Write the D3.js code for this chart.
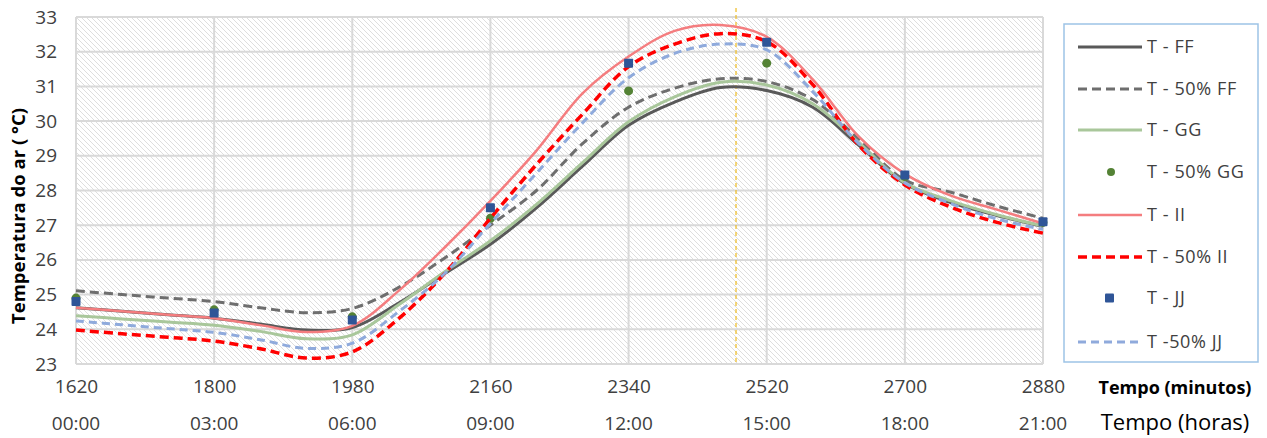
<!DOCTYPE html>
<html>
<head>
<meta charset="utf-8">
<script src="https://cdn.jsdelivr.net/npm/d3@7"></script>
<style>
  body { margin: 0; background: #fff; }
  svg { font-family: "Open Sans", "Noto Sans", sans-serif; }
</style>
</head>
<body>
<div id="chart"></div>
<script>
// time in minutes (hourly readings)
var timeMin = [1620, 1680, 1740, 1800, 1860, 1920, 1980, 2040, 2100, 2160, 2220,
  2280, 2340, 2400, 2460, 2520, 2580, 2640, 2700, 2760, 2820, 2880];

var tFF    = [24.62, 24.52, 24.42, 24.32, 24.15, 23.98, 24.05, 24.75, 25.6, 26.45, 27.5,
  28.7, 29.88, 30.55, 30.97, 30.88, 30.4, 29.3, 28.2, 27.65, 27.28, 26.97];
var t50FF  = [25.11, 25.0, 24.9, 24.8, 24.62, 24.48, 24.6, 25.2, 26.05, 27.0, 28.0,
  29.35, 30.4, 30.95, 31.22, 31.14, 30.62, 29.48, 28.3, 27.95, 27.55, 27.2];
var tGG    = [24.39, 24.3, 24.21, 24.12, 23.94, 23.73, 23.84, 24.7, 25.65, 26.55, 27.6,
  28.8, 29.98, 30.7, 31.12, 31.04, 30.5, 29.38, 28.22, 27.7, 27.3, 26.98];
var tII    = [24.62, 24.52, 24.42, 24.32, 24.12, 23.92, 24.1, 25.1, 26.35, 27.7, 29.15,
  30.8, 31.86, 32.6, 32.77, 32.43, 31.2, 29.55, 28.48, 27.85, 27.45, 27.05];
var t50II  = [23.98, 23.87, 23.77, 23.66, 23.44, 23.17, 23.35, 24.3, 25.6, 27.2, 28.75,
  30.2, 31.57, 32.22, 32.52, 32.29, 31.05, 29.3, 28.16, 27.52, 27.08, 26.77];
var t50JJ  = [24.24, 24.13, 24.02, 23.91, 23.7, 23.45, 23.6, 24.5, 25.6, 27.05, 28.5,
  29.95, 31.25, 31.95, 32.22, 32.05, 30.85, 29.35, 28.22, 27.62, 27.18, 26.88];

// point series (every 3 hours)
var markerMin = [1620, 1800, 1980, 2160, 2340, 2520, 2700, 2880];
var t50GG = [24.9, 24.56, 24.36, 27.2, 30.87, 31.67, 28.4, 27.08];
var tJJ   = [24.8, 24.47, 24.27, 27.5, 31.67, 32.27, 28.45, 27.1];

var tickMin = [1620, 1800, 1980, 2160, 2340, 2520, 2700, 2880];
var tickHours = ["00:00", "03:00", "06:00", "09:00", "12:00", "15:00", "18:00", "21:00"];
var yTicks = [23, 24, 25, 26, 27, 28, 29, 30, 31, 32, 33];
var markerLine = 2480;

var svgWidth = 1267;
var svgHeight = 438;
var margin = { top: 17, right: 224, bottom: 74, left: 76 };
var width = svgWidth - margin.left - margin.right;
var height = svgHeight - margin.top - margin.bottom;

var svg = d3.select("#chart").append("svg")
  .attr("width", svgWidth)
  .attr("height", svgHeight);

// hatch pattern for the plot background
var defs = svg.append("defs");
var pat = defs.append("pattern")
  .attr("id", "hatch")
  .attr("patternUnits", "userSpaceOnUse")
  .attr("width", 5)
  .attr("height", 5);
pat.append("rect").attr("width", 5).attr("height", 5).attr("fill", "#ffffff");
pat.append("path")
  .attr("d", "M0,0 L5,5 M-1,4 L1,6 M4,-1 L6,1")
  .attr("stroke", "#dedede")
  .attr("stroke-width", 1);

var chartGroup = svg.append("g")
  .attr("transform", `translate(${margin.left}, ${margin.top})`);

var x = d3.scaleLinear().domain([1620, 2880]).range([0, width]);
var y = d3.scaleLinear().domain([23, 33]).range([height, 0]);

chartGroup.append("rect")
  .attr("width", width)
  .attr("height", height)
  .attr("fill", "url(#hatch)");

// gridlines
chartGroup.append("g")
  .selectAll("line")
  .data(yTicks)
  .enter()
  .append("line")
  .attr("x1", 0).attr("x2", width)
  .attr("y1", d => y(d)).attr("y2", d => y(d))
  .attr("stroke", "#d9d9d9")
  .attr("stroke-width", 2);

chartGroup.append("g")
  .selectAll("line")
  .data(tickMin)
  .enter()
  .append("line")
  .attr("y1", 0).attr("y2", height)
  .attr("x1", d => x(d)).attr("x2", d => x(d))
  .attr("stroke", "#d9d9d9")
  .attr("stroke-width", 2);

// y axis labels
var leftAxis = d3.axisLeft(y).tickValues(yTicks).tickSize(0).tickPadding(19);
var yAxis = chartGroup.append("g").call(leftAxis);
yAxis.select(".domain").remove();
yAxis.selectAll("text")
  .attr("font-size", "19px")
  .attr("font-family", "'Open Sans', sans-serif")
  .attr("fill", "#404040");

// x axis labels, minutes and hours
var bottomAxis = d3.axisBottom(x).tickValues(tickMin).tickSize(0).tickPadding(16)
  .tickFormat(d3.format("d"));
var xAxis = chartGroup.append("g")
  .attr("transform", `translate(0, ${height})`)
  .call(bottomAxis);
xAxis.select(".domain").remove();
xAxis.selectAll("text")
  .attr("font-size", "19px")
  .attr("font-family", "'Open Sans', sans-serif")
  .attr("fill", "#404040");

chartGroup.append("g")
  .selectAll("text")
  .data(tickMin)
  .enter()
  .append("text")
  .attr("x", d => x(d))
  .attr("y", height + 66)
  .attr("text-anchor", "middle")
  .attr("font-size", "19px")
  .attr("fill", "#404040")
  .text((d, i) => tickHours[i]);

// yellow reference line
chartGroup.append("line")
  .attr("x1", x(markerLine)).attr("x2", x(markerLine))
  .attr("y1", -9).attr("y2", height)
  .attr("stroke", "#f0c030")
  .attr("stroke-width", 1.3)
  .attr("stroke-dasharray", "4,3");

var series = [
  { name: "T - FF", values: tFF, color: "#595959", width: 3, dash: null },
  { name: "T - 50% FF", values: t50FF, color: "#6e6e6e", width: 3, dash: "9,5" },
  { name: "T - GG", values: tGG, color: "#a9c79b", width: 3, dash: null },
  { name: "T - 50% GG", points: t50GG, color: "#548235", shape: "circle" },
  { name: "T - II", values: tII, color: "#f47d7f", width: 2.5, dash: null },
  { name: "T - 50% II", values: t50II, color: "#ff0000", width: 3.5, dash: "9,5" },
  { name: "T - JJ", points: tJJ, color: "#2f5597", shape: "square" },
  { name: "T -50% JJ", values: t50JJ, color: "#8faadc", width: 3, dash: "8,5" }
];

var line = d3.line()
  .x((d, i) => x(timeMin[i]))
  .y(d => y(d))
  .curve(d3.curveCatmullRom.alpha(0.5));

series.forEach(function(s) {
  if (s.values) {
    chartGroup.append("path")
      .datum(s.values)
      .attr("d", line)
      .attr("fill", "none")
      .attr("stroke", s.color)
      .attr("stroke-width", s.width)
      .attr("stroke-dasharray", s.dash);
  } else if (s.shape === "circle") {
    chartGroup.append("g")
      .selectAll("circle")
      .data(s.points)
      .enter()
      .append("circle")
      .attr("cx", (d, i) => x(markerMin[i]))
      .attr("cy", d => y(d))
      .attr("r", 4.5)
      .attr("fill", s.color);
  } else {
    chartGroup.append("g")
      .selectAll("rect")
      .data(s.points)
      .enter()
      .append("rect")
      .attr("x", (d, i) => x(markerMin[i]) - 4.5)
      .attr("y", d => y(d) - 4.5)
      .attr("width", 9)
      .attr("height", 9)
      .attr("rx", 1)
      .attr("fill", s.color);
  }
});

// y axis title
svg.append("text")
  .attr("transform", "translate(25, 216) rotate(-90)")
  .attr("text-anchor", "middle")
  .attr("font-size", "18.5px")
  .attr("font-weight", "bold")
  .attr("fill", "#000")
  .text("Temperatura do ar ( °C)");

// x axis titles
svg.append("text")
  .attr("x", 1175)
  .attr("y", 394)
  .attr("text-anchor", "middle")
  .attr("font-size", "18px")
  .attr("font-weight", "bold")
  .attr("fill", "#000")
  .text("Tempo (minutos)");

svg.append("text")
  .attr("x", 1175)
  .attr("y", 430)
  .attr("text-anchor", "middle")
  .attr("font-size", "22px")
  .attr("fill", "#000")
  .text("Tempo (horas)");

// legend
var legend = svg.append("g");
legend.append("rect")
  .attr("x", 1064)
  .attr("y", 24)
  .attr("width", 194)
  .attr("height", 338)
  .attr("fill", "#fff")
  .attr("stroke", "#9dc3e6")
  .attr("stroke-width", 1.5);

var legendY = [47, 89, 130, 172, 215, 257, 298, 342];

series.forEach(function(s, i) {
  var ly = legendY[i];
  if (s.values) {
    legend.append("line")
      .attr("x1", 1078).attr("x2", 1142)
      .attr("y1", ly).attr("y2", ly)
      .attr("stroke", s.color)
      .attr("stroke-width", s.width)
      .attr("stroke-dasharray", s.dash);
  } else if (s.shape === "circle") {
    legend.append("circle")
      .attr("cx", 1111).attr("cy", ly)
      .attr("r", 4)
      .attr("fill", s.color);
  } else {
    legend.append("rect")
      .attr("x", 1105).attr("y", ly - 4.5)
      .attr("width", 9).attr("height", 9)
      .attr("rx", 1)
      .attr("fill", s.color);
  }
  legend.append("text")
    .attr("x", 1147)
    .attr("y", ly)
    .attr("dy", "0.35em")
    .attr("font-size", "18px")
    .attr("letter-spacing", "0.6px")
    .attr("fill", "#404040")
    .text(s.name);
});
</script>
</body>
</html>
